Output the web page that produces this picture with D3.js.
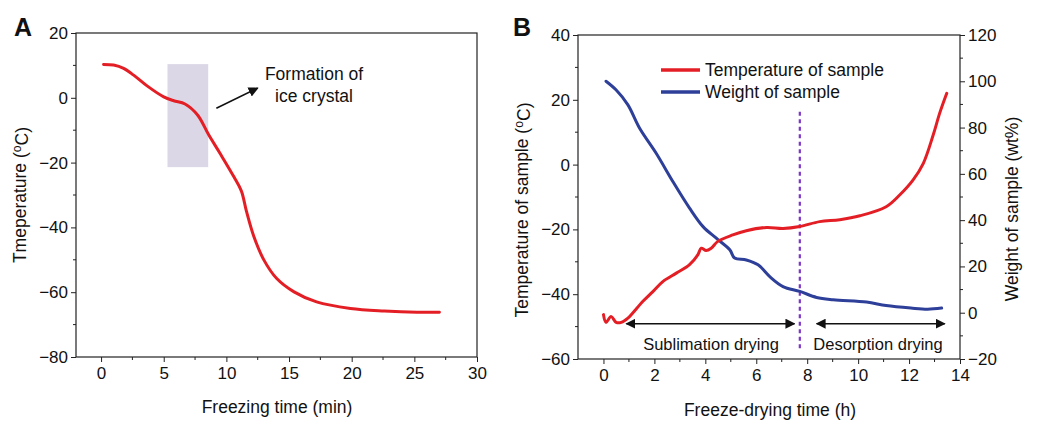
<!DOCTYPE html>
<html>
<head>
<meta charset="utf-8">
<script src="https://cdn.jsdelivr.net/npm/d3@7"></script>
<style>
  body { margin: 0; background: #fff; }
  svg { font-family: Arial, "Liberation Sans", Helvetica, sans-serif; fill: #111; }
  .axis path, .axis line { stroke: #222; }
  .axis text { font-size: 17px; fill: #111; }
</style>
</head>
<body>
<svg id="chart" width="1047" height="421"></svg>
<script>
// panel A: freezing curve
var freezeTime = [0.2, 1.0, 1.8, 2.6, 3.7, 5.0, 5.8, 6.7, 7.7, 8.6, 9.5, 10.6, 11.2, 11.6, 12.2, 13.0, 14.0, 15.4, 17.2, 19.9, 22.6, 25.2, 27.0];
var freezeTemp = [10.3, 10.1, 9.1, 7.0, 3.6, 0.3, -0.9, -1.9, -5.3, -11.5, -17.2, -24.4, -28.8, -35.0, -42.9, -50.1, -55.7, -59.9, -63.0, -65.0, -65.8, -66.2, -66.2];
var iceBox = [5.3, 8.55, 10.4, -21.4]; // x0, x1, yTop, yBottom

// panel B: freeze-drying
var dryTimeT = [0.0, 0.1, 0.3, 0.5, 0.7, 0.96, 1.15, 1.55, 1.94, 2.33, 2.86, 3.38, 3.71, 3.84, 4.03, 4.23, 4.49, 5.08, 5.61, 6.4, 7.05, 7.71, 8.49, 9.28, 10.07, 11.1, 11.64, 12.16, 12.56, 12.95, 13.2, 13.48];
var dryTemp = [-46.3, -48.7, -46.9, -48.7, -48.7, -47.4, -45.8, -42.2, -39.2, -36.1, -33.5, -30.9, -27.8, -25.8, -26.5, -25.8, -23.7, -21.7, -20.4, -19.4, -19.7, -19.1, -17.6, -17.0, -15.8, -13.0, -9.3, -4.7, 0.4, 9.2, 15.8, 22.0];
var dryTimeW = [0.1, 0.5, 0.96, 1.42, 2.07, 2.73, 3.38, 3.91, 4.43, 4.96, 5.15, 5.61, 6.07, 6.53, 7.05, 7.71, 8.37, 9.02, 10.33, 11.1, 12.07, 12.73, 13.28];
var dryWeight = [100.0, 96.2, 89.8, 79.7, 68.9, 56.6, 45.2, 37.2, 32.2, 27.2, 23.6, 22.8, 20.7, 15.6, 11.3, 9.2, 6.6, 5.6, 4.6, 3.1, 2.0, 1.5, 2.0];
var stageSplit = 7.71;
var sublimationSpan = [0.9, 7.5];
var desorptionSpan = [8.37, 13.4];

var red = "#e31e25", blue = "#2d3f99", purple = "#7d35c8";
var svg = d3.select("#chart");

var defs = svg.append("defs");
defs.append("marker").attr("id", "head").attr("viewBox", "0 0 10 10")
    .attr("refX", 9).attr("refY", 5).attr("markerWidth", 10).attr("markerHeight", 10)
    .attr("markerUnits", "userSpaceOnUse").attr("orient", "auto-start-reverse")
  .append("path").attr("d", "M0,0 L10,5 L0,10 z").attr("fill", "#111");

function minorTicks(g, scale, values, orient, len) {
    values.forEach(function(v) {
        var p = scale(v);
        if (orient == "bottom") g.append("line").attr("x1", p).attr("x2", p).attr("y1", 0).attr("y2", len);
        if (orient == "left") g.append("line").attr("y1", p).attr("y2", p).attr("x1", 0).attr("x2", -len);
        if (orient == "right") g.append("line").attr("y1", p).attr("y2", p).attr("x1", 0).attr("x2", len);
    });
    g.selectAll("line").attr("stroke", "#222");
}

function frame(x0, x1, y0, y1) {
    svg.append("rect").attr("x", x0).attr("y", y0).attr("width", x1 - x0).attr("height", y1 - y0)
       .attr("fill", "none").attr("stroke", "#222").attr("stroke-width", 1.2);
}

function degLabel(t, before, after) {
    t.append("tspan").text(before);
    t.append("tspan").attr("font-size", "0.7em").attr("dy", "-0.45em").text("o");
    t.append("tspan").attr("dy", "0.45em").text(after);
}

// ---------- Panel A ----------
var xA = d3.scaleLinear().domain([-2, 30]).range([76, 477]);
var yA = d3.scaleLinear().domain([-80, 20]).range([357, 33]);

svg.append("rect")
   .attr("x", xA(iceBox[0])).attr("y", yA(iceBox[2]))
   .attr("width", xA(iceBox[1]) - xA(iceBox[0])).attr("height", yA(iceBox[3]) - yA(iceBox[2]))
   .attr("fill", "#dcd7e7");

frame(76, 477, 33, 357);

var axA_x = svg.append("g").attr("class", "axis").attr("transform", "translate(0,357)")
   .call(d3.axisBottom(xA).tickValues([0, 5, 10, 15, 20, 25, 30]).tickSize(5).tickPadding(5).tickSizeOuter(0));
minorTicks(axA_x.append("g"), xA, [2.5, 7.5, 12.5, 17.5, 22.5, 27.5], "bottom", 3);
var axA_y = svg.append("g").attr("class", "axis").attr("transform", "translate(76,0)")
   .call(d3.axisLeft(yA).tickValues([-80, -60, -40, -20, 0, 20]).tickSize(5).tickPadding(3).tickSizeOuter(0));
minorTicks(axA_y.append("g"), yA, [-70, -50, -30, -10, 10], "left", 3);
svg.selectAll(".axis .domain").remove();

var lineA = d3.line().x(function(d) { return xA(d[0]); }).y(function(d) { return yA(d[1]); })
    .curve(d3.curveCatmullRom);
svg.append("path").datum(d3.zip(freezeTime, freezeTemp)).attr("d", lineA)
   .attr("fill", "none").attr("stroke", red).attr("stroke-width", 3).attr("stroke-linecap", "round");

svg.append("line").attr("x1", xA(9.2)).attr("y1", yA(-3.2)).attr("x2", xA(12.5)).attr("y2", yA(3.0))
   .attr("stroke", "#111").attr("stroke-width", 1.6).attr("marker-end", "url(#head)");
svg.append("text").attr("x", 314).attr("y", 80).attr("text-anchor", "middle").attr("font-size", 17.5).text("Formation of");
svg.append("text").attr("x", 314).attr("y", 102).attr("text-anchor", "middle").attr("font-size", 17.5).text("ice crystal");

svg.append("text").attr("x", 14).attr("y", 36).attr("font-size", 25).attr("font-weight", "bold").text("A");
degLabel(svg.append("text").attr("transform", "translate(26,195) rotate(-90)").attr("text-anchor", "middle")
   .attr("font-size", 17.5), "Tmeperature (", "C)");
svg.append("text").attr("x", 277).attr("y", 413).attr("text-anchor", "middle").attr("font-size", 17.5)
   .text("Freezing time (min)");

// ---------- Panel B ----------
var xB = d3.scaleLinear().domain([-1, 14]).range([578, 960]);
var yBL = d3.scaleLinear().domain([-60, 40]).range([359, 35]);
var yBR = d3.scaleLinear().domain([-20, 120]).range([359, 35]);

frame(578, 960, 35, 359);

var axB_x = svg.append("g").attr("class", "axis").attr("transform", "translate(0,359)")
   .call(d3.axisBottom(xB).tickValues([0, 2, 4, 6, 8, 10, 12, 14]).tickSize(5).tickPadding(5).tickSizeOuter(0));
minorTicks(axB_x.append("g"), xB, [1, 3, 5, 7, 9, 11, 13], "bottom", 3);
var axB_l = svg.append("g").attr("class", "axis").attr("transform", "translate(578,0)")
   .call(d3.axisLeft(yBL).tickValues([-60, -40, -20, 0, 20, 40]).tickSize(5).tickPadding(3).tickSizeOuter(0));
minorTicks(axB_l.append("g"), yBL, [-50, -30, -10, 10, 30], "left", 3);
var axB_r = svg.append("g").attr("class", "axis").attr("transform", "translate(960,0)")
   .call(d3.axisRight(yBR).tickValues([-20, 0, 20, 40, 60, 80, 100, 120]).tickSize(5).tickPadding(3).tickSizeOuter(0));
minorTicks(axB_r.append("g"), yBR, [-10, 10, 30, 50, 70, 90, 110], "right", 3);
svg.selectAll(".axis .domain").remove();

svg.append("line").attr("x1", xB(stageSplit)).attr("x2", xB(stageSplit))
   .attr("y1", yBL(16.3)).attr("y2", yBL(-57.8))
   .attr("stroke", purple).attr("stroke-width", 2.2).attr("stroke-dasharray", "4,3.5");

var lineT = d3.line().x(function(d) { return xB(d[0]); }).y(function(d) { return yBL(d[1]); })
    .curve(d3.curveCatmullRom);
var lineW = d3.line().x(function(d) { return xB(d[0]); }).y(function(d) { return yBR(d[1]); })
    .curve(d3.curveCatmullRom);
svg.append("path").datum(d3.zip(dryTimeW, dryWeight)).attr("d", lineW)
   .attr("fill", "none").attr("stroke", blue).attr("stroke-width", 3).attr("stroke-linecap", "round");
svg.append("path").datum(d3.zip(dryTimeT, dryTemp)).attr("d", lineT)
   .attr("fill", "none").attr("stroke", red).attr("stroke-width", 3).attr("stroke-linecap", "round");

var arrowY = yBL(-49.1);
[sublimationSpan, desorptionSpan].forEach(function(s) {
    svg.append("line").attr("x1", xB(s[0])).attr("x2", xB(s[1])).attr("y1", arrowY).attr("y2", arrowY)
       .attr("stroke", "#111").attr("stroke-width", 1.4)
       .attr("marker-start", "url(#head)").attr("marker-end", "url(#head)");
});
svg.append("text").attr("x", 711).attr("y", 350).attr("text-anchor", "middle").attr("font-size", 16.5).text("Sublimation drying");
svg.append("text").attr("x", 878).attr("y", 350).attr("text-anchor", "middle").attr("font-size", 16.5).text("Desorption drying");

// legend
var legend = [["Temperature of sample", red], ["Weight of sample", blue]];
legend.forEach(function(d, i) {
    var y = 70 + i * 22;
    svg.append("line").attr("x1", 661).attr("x2", 700).attr("y1", y).attr("y2", y)
       .attr("stroke", d[1]).attr("stroke-width", 3.5);
    svg.append("text").attr("x", 705).attr("y", y + 6).attr("font-size", 17.5).text(d[0]);
});

svg.append("text").attr("x", 513).attr("y", 36).attr("font-size", 25).attr("font-weight", "bold").text("B");
degLabel(svg.append("text").attr("transform", "translate(528,210) rotate(-90)").attr("text-anchor", "middle")
   .attr("font-size", 17.5), "Temperature of sample (", "C)");
svg.append("text").attr("transform", "translate(1018,209) rotate(-90)").attr("text-anchor", "middle")
   .attr("font-size", 17.5).text("Weight of sample (wt%)");
svg.append("text").attr("x", 770).attr("y", 416).attr("text-anchor", "middle").attr("font-size", 17.5)
   .text("Freeze-drying time (h)");
</script>
</body>
</html>
